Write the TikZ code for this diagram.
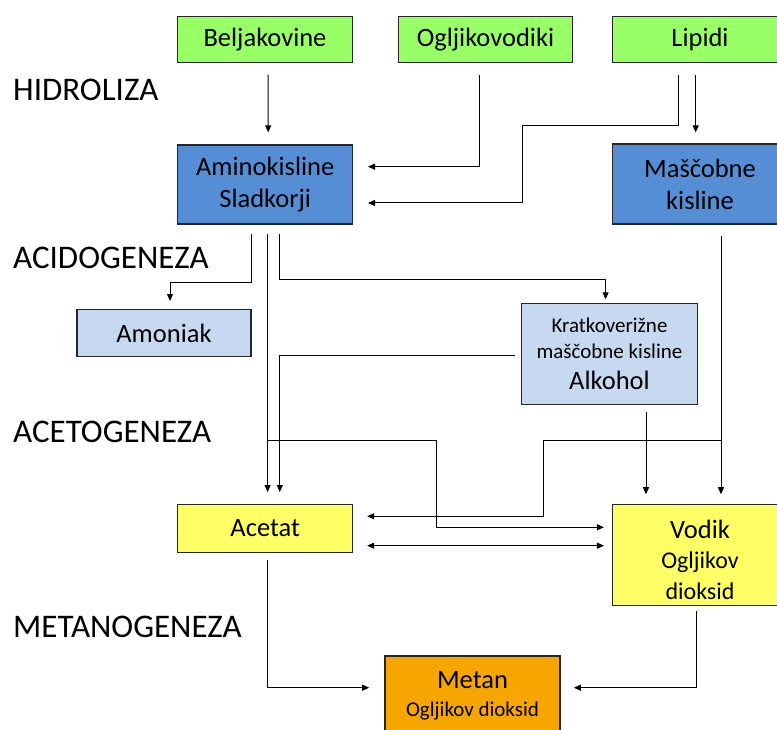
\documentclass[tikz,border=0pt]{standalone}
\usepackage{fontspec}
\setmainfont{Carlito}
\usetikzlibrary{arrows.meta}
\definecolor{cgreen}{HTML}{99FF66}
\definecolor{cblue}{HTML}{558ED5}
\definecolor{clblue}{HTML}{C6D9F1}
\definecolor{cyellow}{HTML}{FFFF66}
\definecolor{corange}{HTML}{F7A600}
\begin{document}
\begin{tikzpicture}[x=1pt,y=1pt,
  box/.style={draw=black!85, line width=1.2pt, minimum width=175pt, inner sep=0pt, align=center, text=black},
  big/.style={font=\fontsize{26.5}{32}\selectfont},
  conn/.style={line width=1pt, draw=black},
  arr/.style={conn, -{Triangle[length=7pt,width=6pt]}},
  dbl/.style={conn, {Triangle[length=7pt,width=6pt]}-{Triangle[length=7pt,width=6pt]}},
  stage/.style={anchor=base west, inner sep=0pt, font=\fontsize{33}{40}\selectfont}]
\useasboundingbox (0,0) rectangle (777,730);
\clip (0,0) rectangle (777,730);
% stage labels
\node[stage] (hid) at (13,629.3) {HIDROLIZA};
\node[stage] (acid) at (13,461.5) {ACIDOGENEZA};
\node[stage] (aceto) at (13,287.5) {ACETOGENEZA};
\node[stage] (metano) at (13,92) {METANOGENEZA};
% boxes
\node[box, big, fill=cgreen, minimum height=46pt] (bel) at (265,690.5) {Beljakovine};
\node[box, big, fill=cgreen, minimum height=46pt, minimum width=174pt] (ogl) at (485.5,690.5) {Ogljikovodiki};
\node[box, big, fill=cgreen, minimum height=46pt] (lip) at (700,690.5) {Lipidi};
\node[box, big, fill=cblue, minimum height=79pt] (amino) at (265.2,545.5) {Aminokisline\\Sladkorji};
\node[box, big, fill=cblue, minimum height=80pt] (masc) at (700,546) {Maščobne\\kisline};
\node[box, big, fill=clblue, minimum height=47.7pt, minimum width=174pt] (amon) at (164,397) {Amoniak};
\node[box, fill=clblue, minimum height=101.7pt, minimum width=176.7pt, font=\fontsize{21}{26.4}\selectfont] (krat) at (609.5,376) {Kratkoverižne\\maščobne kisline\\[4.6pt]\fontsize{26.5}{31}\selectfont Alkohol};
\node[box, big, fill=cyellow, minimum height=48.4pt] (acet) at (265.2,201.5) {Acetat};
\node[box, fill=cyellow, minimum height=101.7pt, font=\fontsize{24}{30.5}\selectfont] (vod) at (700,175) {\fontsize{26.5}{31}\selectfont\rule{0pt}{28pt}Vodik\\Ogljikov\\dioksid};
\node[box, fill=corange, minimum height=80pt, font=\fontsize{21}{28.3}\selectfont] (met) at (472.5,34) {\fontsize{26.5}{31}\selectfont Metan\\Ogljikov dioksid};
% hydrolysis
\draw[arr] ([xshift=3pt,yshift=-11.5pt]bel.south) -- ([xshift=3pt,yshift=12pt]amino.north);
\draw[arr] ([xshift=-5.8pt,yshift=-11.5pt]ogl.south) |- ([xshift=14.7pt,yshift=17.8pt]amino.east);
\coordinate (lipjog) at (522,604);
\draw[arr] ([xshift=-22pt,yshift=-11.5pt]lip.south) |- (lipjog) |- ([xshift=14.7pt,yshift=-18.5pt]amino.east);
\draw[arr] ([xshift=-4.3pt,yshift=-11.5pt]lip.south) -- ([xshift=-4.3pt,yshift=11pt]masc.north);
% acidogenesis
\draw[arr] ([xshift=-13.5pt,yshift=-9pt]amino.south) -- ++(0,-48.7) -| ([xshift=6pt,yshift=7.5pt]amon.north);
\draw[arr] ([xshift=2.4pt,yshift=-9pt]amino.south) -- ([xshift=2.4pt,yshift=11.6pt]acet.north);
\draw[arr] ([xshift=13.8pt,yshift=-9pt]amino.south) -- ++(0,-46.3) -| ([xshift=-3.9pt,yshift=3.2pt]krat.north);
\draw[arr] ([xshift=-6pt,yshift=-2pt]krat.west) -| ([xshift=14.6pt,yshift=11.6pt]acet.north);
% acetogenesis
\coordinate (acsplit) at (267.6,289.3);
\coordinate (acbend) at (436.7,289.3);
\draw[arr] (acsplit) -- (acbend) |- ([xshift=-8pt,yshift=27.7pt]vod.west);
\draw[arr] ([xshift=21pt,yshift=-11pt]masc.south) -- ([xshift=21pt,yshift=9.3pt]vod.north);
\coordinate (vsplit) at (721,289.3);
\coordinate (vbend) at (543,289.3);
\draw[arr] (vsplit) -- (vbend) |- ([xshift=13.9pt,yshift=12.2pt]acet.east);
\draw[arr] ([xshift=36.5pt,yshift=-6.8pt]krat.south) -- ([xshift=-54pt,yshift=9.3pt]vod.north);
\draw[dbl] ([xshift=13.9pt,yshift=-17.2pt]acet.east) -- ([xshift=-8pt,yshift=9.3pt]vod.west);
% methanogenesis
\draw[arr] ([xshift=1.8pt,yshift=-6.6pt]acet.south) |- ([xshift=-15.2pt,yshift=8.3pt]met.west);
\draw[arr] ([xshift=-3.6pt,yshift=-5pt]vod.south) |- ([xshift=13.2pt,yshift=8.3pt]met.east);
\end{tikzpicture}
\end{document}
